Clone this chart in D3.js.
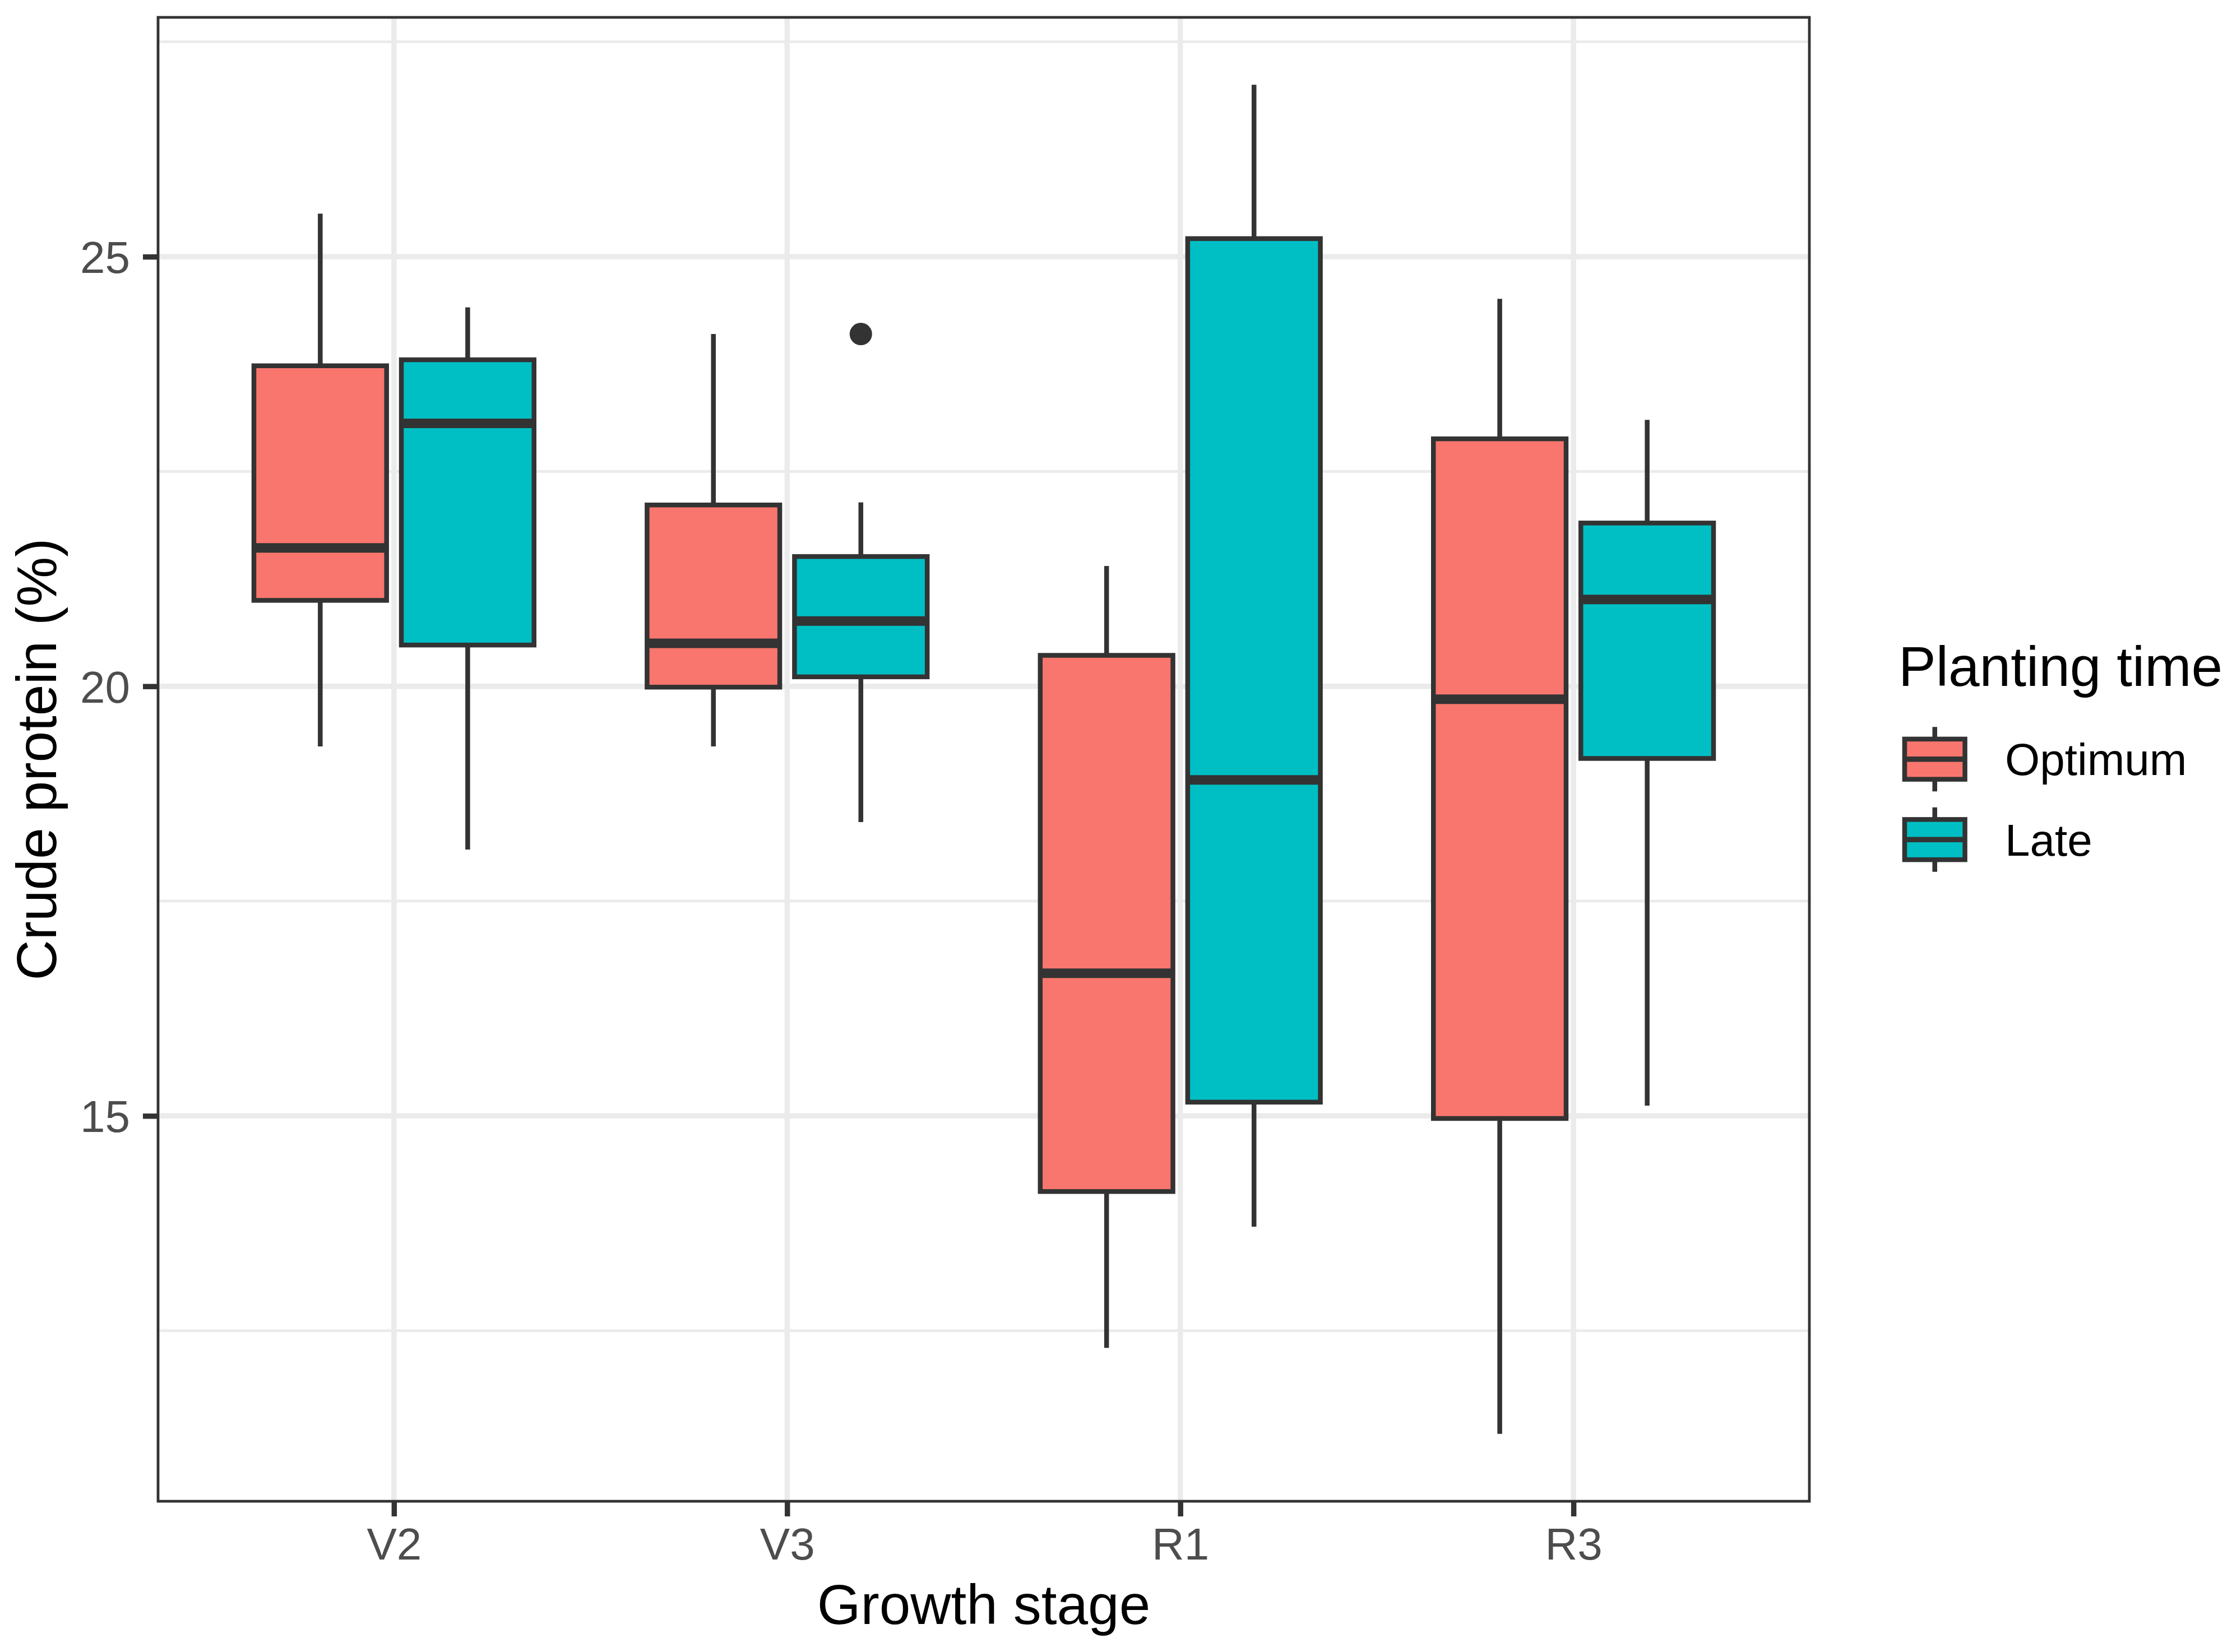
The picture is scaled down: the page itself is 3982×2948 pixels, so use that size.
<!DOCTYPE html>
<html>
<head>
<meta charset="utf-8">
<script src="https://cdn.jsdelivr.net/npm/d3@7"></script>
<style>
  html, body { margin: 0; padding: 0; background: #ffffff; }
  svg { display: block; }
  text { font-family: "Liberation Sans", Arial, Helvetica, sans-serif; }
</style>
</head>
<body>
<script>
// ---------------- data ----------------
const stages = ["V2", "V3", "R1", "R3"];
const groups = ["Optimum", "Late"];
const groupColors = ["#F8766D", "#00BFC4"];

// Optimum planting time (summary statistics per stage)
const optLower  = [19.30, 19.30, 12.30, 11.30];
const optQ1     = [21.00, 19.99, 14.12, 14.97];
const optMedian = [21.61, 20.50, 16.66, 19.85];
const optQ3     = [23.73, 22.11, 20.36, 22.88];
const optUpper  = [25.50, 24.10, 21.40, 24.51];
const optOutliers = [[], [], [], []];

// Late planting time
const lateLower  = [18.10, 18.42, 13.71, 15.12];
const lateQ1     = [20.48, 20.11, 15.16, 19.16];
const lateMedian = [23.06, 20.76, 18.91, 21.01];
const lateQ3     = [23.80, 21.51, 25.21, 21.90];
const lateUpper  = [24.41, 22.14, 27.00, 23.10];
const lateOutliers = [[], [24.10], [], []];

const yTicks = [15, 20, 25];
const yMinorTicks = [12.5, 17.5, 22.5, 27.5];

const xTitle = "Growth stage";
const yTitle = "Crude protein (%)";
const legendTitle = "Planting time";

// ---------------- layout ----------------
const W = 3982, H = 2948;
const panel = { left: 282, right: 3228, top: 31, bottom: 2679 };
const ink = "#333333";

const summaries = [
  { lower: optLower, q1: optQ1, med: optMedian, q3: optQ3, upper: optUpper, out: optOutliers },
  { lower: lateLower, q1: lateQ1, med: lateMedian, q3: lateQ3, upper: lateUpper, out: lateOutliers }
];
const boxes = [];
summaries.forEach((s, gi) => {
  stages.forEach((st, si) => {
    boxes.push({ stage: st, group: groups[gi], gi,
      lower: s.lower[si], q1: s.q1[si], med: s.med[si], q3: s.q3[si], upper: s.upper[si], out: s.out[si] });
  });
});

const allVals = boxes.flatMap(b => [b.lower, b.upper, ...b.out]);
const vMin = d3.min(allVals), vMax = d3.max(allVals);
const pad = (vMax - vMin) * 0.05;

const x = d3.scalePoint().domain(stages).range([panel.left, panel.right]).padding(0.6);
const y = d3.scaleLinear().domain([vMin - pad, vMax + pad]).range([panel.bottom, panel.top]);
const color = d3.scaleOrdinal().domain(groups).range(groupColors);

const step = x.step();
const dodge = 0.375 * step;
const boxW = 0.3375 * step;

const svg = d3.select("body").append("svg").attr("width", W).attr("height", H);
svg.append("rect").attr("width", W).attr("height", H).attr("fill", "#ffffff");

// grid
const grid = svg.append("g");
grid.selectAll("line.minor").data(yMinorTicks).enter().append("line")
  .attr("x1", panel.left).attr("x2", panel.right)
  .attr("y1", d => y(d)).attr("y2", d => y(d))
  .attr("stroke", "#EBEBEB").attr("stroke-width", 4.8);
grid.selectAll("line.major").data(yTicks).enter().append("line")
  .attr("x1", panel.left).attr("x2", panel.right)
  .attr("y1", d => y(d)).attr("y2", d => y(d))
  .attr("stroke", "#EBEBEB").attr("stroke-width", 9.5);
grid.selectAll("line.vmajor").data(stages).enter().append("line")
  .attr("x1", d => x(d)).attr("x2", d => x(d))
  .attr("y1", panel.top).attr("y2", panel.bottom)
  .attr("stroke", "#EBEBEB").attr("stroke-width", 9.5);

// boxes
const cx = b => x(b.stage) + (b.gi - 0.5) * dodge;
const g = svg.append("g");
const bx = g.selectAll("g.box").data(boxes).enter().append("g");
bx.append("line")
  .attr("x1", cx).attr("x2", cx)
  .attr("y1", b => y(b.upper)).attr("y2", b => y(b.q3))
  .attr("stroke", ink).attr("stroke-width", 8.5);
bx.append("line")
  .attr("x1", cx).attr("x2", cx)
  .attr("y1", b => y(b.q1)).attr("y2", b => y(b.lower))
  .attr("stroke", ink).attr("stroke-width", 8.5);
bx.append("rect")
  .attr("x", b => cx(b) - boxW / 2).attr("width", boxW)
  .attr("y", b => y(b.q3)).attr("height", b => y(b.q1) - y(b.q3))
  .attr("fill", b => color(b.group)).attr("stroke", ink).attr("stroke-width", 8.5);
bx.append("line")
  .attr("x1", b => cx(b) - boxW / 2).attr("x2", b => cx(b) + boxW / 2)
  .attr("y1", b => y(b.med)).attr("y2", b => y(b.med))
  .attr("stroke", ink).attr("stroke-width", 17);
bx.each(function(b) {
  d3.select(this).selectAll("circle").data(b.out).enter().append("circle")
    .attr("cx", cx(b)).attr("cy", d => y(d)).attr("r", 20).attr("fill", ink);
});

// panel border
svg.append("rect")
  .attr("x", panel.left).attr("y", panel.top)
  .attr("width", panel.right - panel.left).attr("height", panel.bottom - panel.top)
  .attr("fill", "none").attr("stroke", ink).attr("stroke-width", 4.8);

// axes
const yAxis = svg.append("g").attr("transform", `translate(${panel.left},0)`)
  .call(d3.axisLeft(y).tickValues(yTicks).tickSize(27).tickPadding(23).tickFormat(d3.format("d")));
yAxis.select(".domain").remove();
yAxis.selectAll(".tick line").attr("stroke", ink).attr("stroke-width", 9.5);
yAxis.selectAll(".tick text").attr("fill", "#4D4D4D").attr("font-size", 80)
  .attr("dy", "0.358em").style("font-family", '"Liberation Sans", Arial, sans-serif');

const xAxis = svg.append("g").attr("transform", `translate(0,${panel.bottom})`)
  .call(d3.axisBottom(x).tickSize(27).tickPadding(20));
xAxis.select(".domain").remove();
xAxis.selectAll(".tick line").attr("stroke", ink).attr("stroke-width", 9.5);
xAxis.selectAll(".tick text").attr("fill", "#4D4D4D").attr("font-size", 80)
  .attr("dy", "0.71em").style("font-family", '"Liberation Sans", Arial, sans-serif');

// axis titles
svg.append("text")
  .attr("x", (panel.left + panel.right) / 2).attr("y", 2898)
  .attr("text-anchor", "middle").attr("font-size", 100).attr("fill", "#000")
  .text(xTitle);
svg.append("text")
  .attr("transform", `translate(100,${(panel.top + panel.bottom) / 2}) rotate(-90)`)
  .attr("text-anchor", "middle").attr("font-size", 100).attr("fill", "#000")
  .text(yTitle);

// legend
const lg = svg.append("g");
lg.append("text").attr("x", 3387).attr("y", 1224)
  .attr("font-size", 100).attr("fill", "#000").text(legendTitle);
const keySize = 143.5, keyX = 3380, keyY0 = 1283;
const items = lg.selectAll("g.item").data(groups).enter().append("g")
  .attr("transform", (d, i) => `translate(${keyX},${keyY0 + i * keySize})`);
items.append("line")
  .attr("x1", keySize / 2).attr("x2", keySize / 2)
  .attr("y1", keySize * 0.1).attr("y2", keySize * 0.9)
  .attr("stroke", ink).attr("stroke-width", 8.5);
items.append("rect")
  .attr("x", keySize * 0.125).attr("width", keySize * 0.75)
  .attr("y", keySize * 0.25).attr("height", keySize * 0.5)
  .attr("fill", d => color(d)).attr("stroke", ink).attr("stroke-width", 8.5);
items.append("line")
  .attr("x1", keySize * 0.125).attr("x2", keySize * 0.875)
  .attr("y1", keySize / 2).attr("y2", keySize / 2)
  .attr("stroke", ink).attr("stroke-width", 9.5);
items.append("text")
  .attr("x", 3577 - keyX).attr("y", keySize / 2).attr("dy", "0.358em")
  .attr("font-size", 80).attr("fill", "#000").text(d => d);
</script>
</body>
</html>
